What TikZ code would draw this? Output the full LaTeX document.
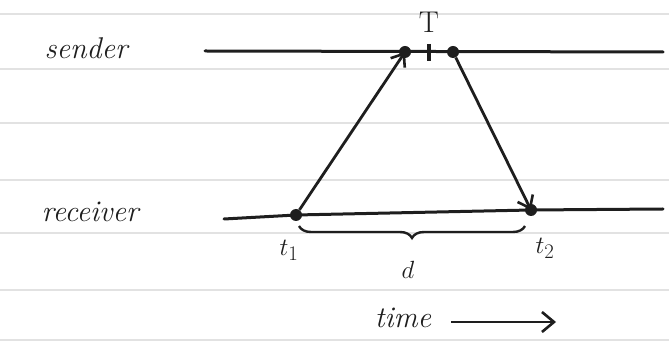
\documentclass[tikz,border=0pt]{standalone}
\usetikzlibrary{arrows.meta,decorations.pathreplacing}
\definecolor{ink}{RGB}{30,30,30}
\definecolor{rule}{RGB}{226,226,226}
\begin{document}
\begin{tikzpicture}[x=1pt,y=-1pt,
  ruling/.style={draw=rule,line width=1.2pt},
  timeline/.style={draw=ink,line width=3pt,line cap=round},
  msg/.style={draw=ink,line width=2.8pt,-{Straight Barb[length=11pt,width=17pt,line width=2.6pt]}},
  evt/.style={circle,fill=ink,inner sep=0pt,minimum size=12pt},
  hand/.style={text=ink,font=\fontsize{30}{34}\selectfont\itshape},
  lbl/.style={text=ink,font=\fontsize{30}{34}\selectfont}]
\useasboundingbox (0,0) rectangle (669,344);
% ruled paper
\foreach \yy in {14,69,123,180,233,290,340}
  \draw[ruling] (0,\yy) -- (669,\yy);
% time lines
\coordinate (sl) at (205,51);
\coordinate (sr) at (663,52);
\coordinate (rl) at (224,219);
\coordinate (rr) at (663,209);
\draw[timeline] (sl) -- (sr);
\draw[timeline] (rl) -- (296,215) -- (531,210) -- (rr);
% events
\node[evt] (s1) at (405,52) {};
\node[evt] (s2) at (453,52) {};
\node[evt] (t1) at (296,215) {};
\node[evt] (t2) at (531,210) {};
\coordinate (tk1) at (429,44);
\coordinate (tk2) at (429,61);
\draw[ink,line width=3.2pt] (tk1) -- (tk2);
% messages
\draw[msg] (t1) -- (s1.center);
\draw[msg] (s2) -- (t2.center);
% brace
\coordinate (b1) at (299,226);
\coordinate (b2) at (525,226);
\draw[ink,line width=2.4pt,decorate,
  decoration={brace,mirror,amplitude=12pt}] (b1) -- (b2);
% labels
\node[hand] (sender) at (86,48) {sender};
\node[hand] (receiver) at (90,212) {receiver};
\node[lbl] (T) at (429,22) {T};
\node[hand] (t1l) at (289,250) {$t_1$};
\node[hand] (t2l) at (545,248) {$t_2$};
\node[hand] (d) at (408,270) {$d$};
\node[hand] (time) at (403,318) {time};
\coordinate (a1) at (451,322);
\coordinate (a2) at (556,322);
\draw[ink,line width=2.8pt,-{Straight Barb[length=12pt,width=20pt,line width=2.6pt]}] (a1) -- (a2);
\end{tikzpicture}
\end{document}
